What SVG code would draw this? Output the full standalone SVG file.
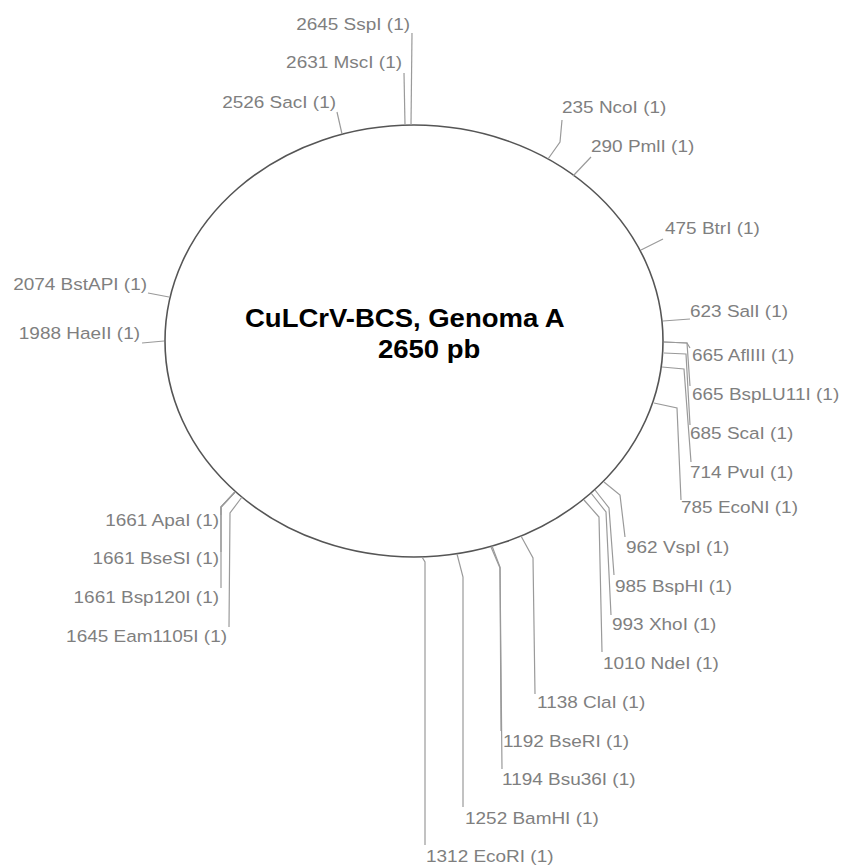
<svg xmlns="http://www.w3.org/2000/svg" width="846" height="867" viewBox="0 0 846 867">
<style>
.lbl{font-family:"Liberation Sans",Arial,sans-serif;font-size:16.5px;fill:#7f7f7f}
.e{text-anchor:end}
.ttl{font-family:"Liberation Sans",Arial,sans-serif;font-size:25px;font-weight:bold;fill:#000}
.cn{fill:none;stroke:#9a9a9a;stroke-width:1.2}
</style>
<rect width="846" height="867" fill="#fff"/>
<g id="plasmid">
<ellipse cx="414" cy="341" rx="249" ry="216" fill="none" stroke="#555" stroke-width="1.6"/>
<text class="ttl" transform="translate(245,327) scale(1.1,1)">CuLCrV-BCS, Genoma A</text>
<text class="ttl" transform="translate(378,358) scale(1.1,1)">2650 pb</text>
</g>
<g id="connectors">
<polyline class="cn" points="411,125 412,33"/>
<polyline class="cn" points="405,125 404,73"/>
<polyline class="cn" points="342,134 337,112"/>
<polyline class="cn" points="548,159 560,142 562,120"/>
<polyline class="cn" points="573,176 591,157"/>
<polyline class="cn" points="641,250 663,239"/>
<polyline class="cn" points="663,321 690,319"/>
<polyline class="cn" points="664,342 687,343 690,348"/>
<polyline class="cn" points="664,342 687,343 690,386"/>
<polyline class="cn" points="664,353 686,354 690,425"/>
<polyline class="cn" points="662,367 684,369 691,462"/>
<polyline class="cn" points="654,403 677,408 681,500"/>
<polyline class="cn" points="604,482 620,495 625,537"/>
<polyline class="cn" points="595,490 609,508 614,575"/>
<polyline class="cn" points="591,493 606,512 611,615"/>
<polyline class="cn" points="584,500 599,517 602,652"/>
<polyline class="cn" points="521,536 533,558 535,694"/>
<polyline class="cn" points="492,546 500,567 501,731"/>
<polyline class="cn" points="491,547 500,568 502,769"/>
<polyline class="cn" points="457,554 463,577 463,807"/>
<polyline class="cn" points="422,557 425,562 425,845"/>
<polyline class="cn" points="235,492 221,507 221,515"/>
<polyline class="cn" points="235,492 221,507 221,552"/>
<polyline class="cn" points="235,492 221,507 221,588"/>
<polyline class="cn" points="242,497 230,513 229,627"/>
<polyline class="cn" points="169,297 148,293"/>
<polyline class="cn" points="164,341 142,343"/>
</g>
<g id="site-2645"><text class="lbl e" transform="translate(410,30) scale(1.15,1)">2645 SspI (1)</text></g>
<g id="site-2631"><text class="lbl e" transform="translate(402,68) scale(1.15,1)">2631 MscI (1)</text></g>
<g id="site-2526"><text class="lbl e" transform="translate(336,108) scale(1.15,1)">2526 SacI (1)</text></g>
<g id="site-235"><text class="lbl" transform="translate(562,113) scale(1.15,1)">235 NcoI (1)</text></g>
<g id="site-290"><text class="lbl" transform="translate(591,152) scale(1.15,1)">290 PmlI (1)</text></g>
<g id="site-475"><text class="lbl" transform="translate(665,234) scale(1.15,1)">475 BtrI (1)</text></g>
<g id="site-623"><text class="lbl" transform="translate(690,317) scale(1.15,1)">623 SalI (1)</text></g>
<g id="site-665a"><text class="lbl" transform="translate(692,361) scale(1.15,1)">665 AflIII (1)</text></g>
<g id="site-665b"><text class="lbl" transform="translate(692,400) scale(1.15,1)">665 BspLU11I (1)</text></g>
<g id="site-685"><text class="lbl" transform="translate(690,439) scale(1.15,1)">685 ScaI (1)</text></g>
<g id="site-714"><text class="lbl" transform="translate(690,478) scale(1.15,1)">714 PvuI (1)</text></g>
<g id="site-785"><text class="lbl" transform="translate(681,513) scale(1.15,1)">785 EcoNI (1)</text></g>
<g id="site-962"><text class="lbl" transform="translate(626,553) scale(1.15,1)">962 VspI (1)</text></g>
<g id="site-985"><text class="lbl" transform="translate(615,592) scale(1.15,1)">985 BspHI (1)</text></g>
<g id="site-993"><text class="lbl" transform="translate(612,630) scale(1.15,1)">993 XhoI (1)</text></g>
<g id="site-1010"><text class="lbl" transform="translate(603,669) scale(1.15,1)">1010 NdeI (1)</text></g>
<g id="site-1138"><text class="lbl" transform="translate(537,708) scale(1.15,1)">1138 ClaI (1)</text></g>
<g id="site-1192"><text class="lbl" transform="translate(503,747) scale(1.15,1)">1192 BseRI (1)</text></g>
<g id="site-1194"><text class="lbl" transform="translate(502,785) scale(1.15,1)">1194 Bsu36I (1)</text></g>
<g id="site-1252"><text class="lbl" transform="translate(465,824) scale(1.15,1)">1252 BamHI (1)</text></g>
<g id="site-1312"><text class="lbl" transform="translate(426,862) scale(1.15,1)">1312 EcoRI (1)</text></g>
<g id="site-1661a"><text class="lbl e" transform="translate(219,526) scale(1.15,1)">1661 ApaI (1)</text></g>
<g id="site-1661b"><text class="lbl e" transform="translate(219,564) scale(1.15,1)">1661 BseSI (1)</text></g>
<g id="site-1661c"><text class="lbl e" transform="translate(219,603) scale(1.15,1)">1661 Bsp120I (1)</text></g>
<g id="site-1645"><text class="lbl e" transform="translate(227,642) scale(1.15,1)">1645 Eam1105I (1)</text></g>
<g id="site-2074"><text class="lbl e" transform="translate(147,290) scale(1.15,1)">2074 BstAPI (1)</text></g>
<g id="site-1988"><text class="lbl e" transform="translate(140,339) scale(1.15,1)">1988 HaeII (1)</text></g>
</svg>
